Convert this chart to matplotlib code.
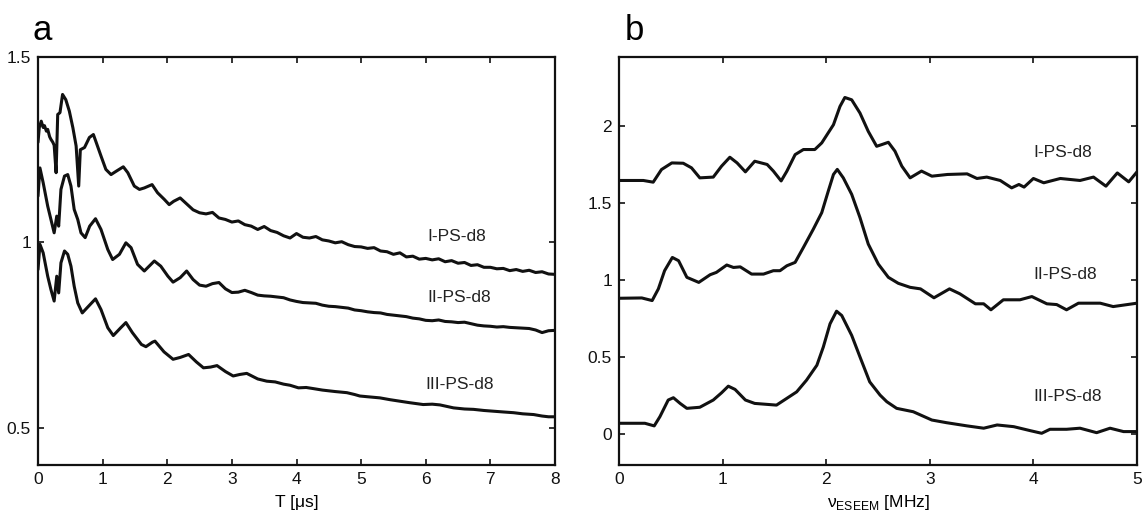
import matplotlib
matplotlib.use("Agg")
import matplotlib.pyplot as plt
from matplotlib.ticker import FormatStrFormatter

plt.rcParams['font.family'] = ['Liberation Sans', 'DejaVu Sans']
plt.rcParams['mathtext.fontset'] = 'custom'
plt.rcParams['mathtext.rm'] = 'Liberation Sans'

# ---------------- Panel a : time-domain ESEEM ----------------
a_I_t = [0.0, 0.02, 0.05, 0.08, 0.10, 0.13, 0.15, 0.18, 0.20, 0.23, 0.25, 0.28, 0.305, 0.34, 0.38,
         0.43, 0.485, 0.54, 0.59, 0.63, 0.655, 0.72, 0.795, 0.857, 0.90, 0.975, 1.05, 1.13, 1.21,
         1.32, 1.39, 1.49, 1.57, 1.645, 1.765, 1.85, 1.955, 2.03,
         2.1, 2.2, 2.3, 2.4, 2.5, 2.6, 2.7, 2.8, 2.9, 3.0, 3.1, 3.2, 3.3, 3.4, 3.5, 3.6, 3.7, 3.8,
         3.9, 4.0, 4.1, 4.2, 4.3, 4.4, 4.5, 4.6, 4.7, 4.8, 4.9, 5.0, 5.1, 5.2, 5.3, 5.4, 5.5, 5.6,
         5.7, 5.8, 5.9, 6.0, 6.1, 6.2, 6.3, 6.4, 6.5, 6.6, 6.7, 6.8, 6.9, 7.0, 7.1, 7.2, 7.3, 7.4,
         7.5, 7.6, 7.7, 7.8, 7.9, 8.0]
a_I_y = [1.27, 1.31, 1.327, 1.31, 1.315, 1.30, 1.305, 1.285, 1.278, 1.27, 1.262, 1.188, 1.345, 1.35, 1.399,
         1.385, 1.354, 1.309, 1.26, 1.152, 1.25, 1.256, 1.283, 1.291, 1.27, 1.233, 1.197, 1.183, 1.192,
         1.204, 1.188, 1.152, 1.143, 1.147, 1.156, 1.134, 1.116, 1.102,
         1.111, 1.120, 1.104, 1.088, 1.080, 1.077, 1.081, 1.066, 1.062, 1.055, 1.058, 1.048, 1.044,
         1.035, 1.043, 1.032, 1.027, 1.018, 1.012, 1.024, 1.014, 1.012, 1.016, 1.007, 1.004, 0.999,
         1.002, 0.994, 0.989, 0.988, 0.984, 0.986, 0.977, 0.975, 0.968, 0.972, 0.961, 0.963, 0.955,
         0.957, 0.953, 0.956, 0.948, 0.951, 0.944, 0.946, 0.938, 0.940, 0.933, 0.933, 0.929, 0.930,
         0.924, 0.927, 0.922, 0.925, 0.919, 0.921, 0.915, 0.914]

a_II_t = [0.0, 0.03, 0.08, 0.15, 0.20, 0.25, 0.29, 0.32, 0.355, 0.41, 0.46, 0.51, 0.56, 0.615, 0.665,
          0.73, 0.80, 0.89, 0.975, 1.08, 1.155, 1.26, 1.36, 1.44, 1.54, 1.645, 1.80, 1.90, 2.01, 2.09,
          2.2, 2.3, 2.4, 2.5, 2.6, 2.7, 2.8, 2.9, 3.0, 3.1, 3.2, 3.3, 3.4, 3.5, 3.6, 3.7, 3.8, 3.9,
          4.0, 4.1, 4.2, 4.3, 4.4, 4.5, 4.6, 4.7, 4.8, 4.9, 5.0, 5.1, 5.2, 5.3, 5.4, 5.5, 5.6, 5.7,
          5.8, 5.9, 6.0, 6.1, 6.2, 6.3, 6.4, 6.5, 6.6, 6.7, 6.8, 6.9, 7.0, 7.1, 7.2, 7.3, 7.4, 7.5,
          7.6, 7.7, 7.8, 7.9, 8.0]
a_II_y = [1.125, 1.201, 1.161, 1.098, 1.062, 1.026, 1.071, 1.044, 1.143, 1.179, 1.183, 1.152, 1.089,
          1.062, 1.026, 1.013, 1.044, 1.064, 1.035, 0.981, 0.954, 0.968, 0.999, 0.986, 0.941, 0.923,
          0.950, 0.936, 0.909, 0.893,
          0.905, 0.923, 0.900, 0.885, 0.882, 0.889, 0.892, 0.875, 0.865, 0.866, 0.871, 0.865, 0.858,
          0.856, 0.855, 0.853, 0.851, 0.845, 0.841, 0.838, 0.837, 0.836, 0.831, 0.828, 0.827, 0.825,
          0.823, 0.818, 0.816, 0.813, 0.811, 0.810, 0.806, 0.804, 0.802, 0.800, 0.796, 0.794, 0.790,
          0.789, 0.791, 0.787, 0.786, 0.784, 0.785, 0.781, 0.777, 0.775, 0.774, 0.772, 0.773, 0.771,
          0.770, 0.769, 0.768, 0.764, 0.757, 0.762, 0.763]

a_III_t = [0.0, 0.03, 0.08, 0.15, 0.20, 0.25, 0.29, 0.32, 0.355, 0.41, 0.46, 0.51, 0.56, 0.615, 0.685,
           0.76, 0.89, 0.975, 1.08, 1.165, 1.28, 1.36, 1.46, 1.60, 1.67, 1.77, 1.81, 1.95, 2.09, 2.2,
           2.33, 2.45, 2.56, 2.67, 2.77, 2.9, 3.02, 3.12, 3.23, 3.4, 3.54, 3.67, 3.80, 3.9, 4.03, 4.15,
           4.26, 4.4, 4.5, 4.6, 4.78, 4.9, 4.98, 5.1, 5.29, 5.45, 5.60, 5.75, 5.96, 6.1, 6.22, 6.43,
           6.6, 6.74, 6.9, 7.05, 7.2, 7.36, 7.5, 7.67, 7.8, 7.9, 8.0]
a_III_y = [0.927, 0.995, 0.972, 0.909, 0.873, 0.842, 0.909, 0.864, 0.945, 0.977, 0.968, 0.936, 0.882,
           0.837, 0.810, 0.824, 0.848, 0.819, 0.770, 0.749, 0.770, 0.784, 0.757, 0.725, 0.719, 0.731,
           0.734, 0.705, 0.685, 0.690, 0.698, 0.678, 0.662, 0.664, 0.668, 0.652, 0.640, 0.644, 0.647,
           0.632, 0.626, 0.624, 0.618, 0.615, 0.608, 0.609, 0.606, 0.602, 0.600, 0.598, 0.595, 0.590,
           0.586, 0.584, 0.581, 0.576, 0.572, 0.568, 0.563, 0.564, 0.562, 0.554, 0.551, 0.550, 0.547,
           0.545, 0.543, 0.541, 0.538, 0.536, 0.532, 0.530, 0.530]

a_labels = ["I-PS-d8", "II-PS-d8", "III-PS-d8"]
a_label_x = [6.02, 6.02, 5.99]
a_label_y = [1.016, 0.852, 0.617]
a_xticks = [0, 1, 2, 3, 4, 5, 6, 7, 8]
a_yticks = [0.5, 1, 1.5]

# ---------------- Panel b : frequency-domain spectra ----------------
b_I_f = [0.01, 0.235, 0.33, 0.41, 0.51, 0.62, 0.70, 0.78, 0.91, 0.99, 1.07, 1.14, 1.22, 1.31, 1.43,
         1.49, 1.565, 1.62, 1.70, 1.78, 1.89, 1.957, 2.07, 2.133, 2.18, 2.246, 2.326, 2.406, 2.487,
         2.536, 2.60, 2.664, 2.73, 2.81, 2.92, 3.02, 3.17, 3.36, 3.455, 3.55, 3.68, 3.79, 3.86, 3.91,
         4.00, 4.10, 4.26, 4.45, 4.58, 4.70, 4.81, 4.92, 5.0]
b_I_v = [1.648, 1.648, 1.637, 1.719, 1.762, 1.76, 1.73, 1.665, 1.67, 1.741, 1.799, 1.762, 1.704, 1.773,
         1.752, 1.709, 1.645, 1.708, 1.816, 1.849, 1.849, 1.892, 2.01, 2.129, 2.187, 2.172, 2.086,
         1.967, 1.87, 1.881, 1.896, 1.838, 1.741, 1.665, 1.709, 1.676, 1.687, 1.691, 1.661, 1.67,
         1.648, 1.60, 1.622, 1.605, 1.661, 1.633, 1.661, 1.648, 1.67, 1.611, 1.697, 1.639, 1.704]

b_II_f = [0.01, 0.22, 0.32, 0.38, 0.44, 0.515, 0.575, 0.655, 0.77, 0.88, 0.94, 1.04, 1.105, 1.17, 1.28,
          1.395, 1.49, 1.554, 1.62, 1.70, 1.78, 1.875, 1.957, 2.02, 2.07, 2.107, 2.165, 2.246, 2.326,
          2.406, 2.503, 2.60, 2.696, 2.81, 2.91, 3.04, 3.19, 3.29, 3.44, 3.52, 3.59, 3.71, 3.87,
          3.985, 4.13, 4.225, 4.32, 4.435, 4.645, 4.77, 5.0]
b_II_v = [0.883, 0.885, 0.868, 0.944, 1.062, 1.148, 1.127, 1.019, 0.986, 1.036, 1.051, 1.099, 1.083,
          1.087, 1.04, 1.04, 1.062, 1.062, 1.094, 1.116, 1.213, 1.331, 1.439, 1.579, 1.687, 1.72,
          1.665, 1.558, 1.407, 1.235, 1.105, 1.019, 0.98, 0.954, 0.944, 0.886, 0.944, 0.912, 0.847,
          0.847, 0.808, 0.873, 0.873, 0.894, 0.847, 0.842, 0.808, 0.851, 0.851, 0.829, 0.851]

b_III_f = [0.01, 0.25, 0.34, 0.395, 0.475, 0.525, 0.59, 0.655, 0.78, 0.91, 0.99, 1.055, 1.12, 1.22,
           1.31, 1.425, 1.52, 1.62, 1.715, 1.81, 1.91, 1.972, 2.037, 2.10, 2.15, 2.246, 2.326, 2.42,
           2.52, 2.585, 2.68, 2.84, 3.02, 3.16, 3.36, 3.52, 3.65, 3.81, 3.97, 4.08, 4.16, 4.32, 4.45,
           4.61, 4.74, 4.87, 5.0]
b_III_v = [0.071, 0.071, 0.054, 0.114, 0.222, 0.237, 0.20, 0.168, 0.175, 0.222, 0.269, 0.312, 0.291,
           0.222, 0.20, 0.194, 0.189, 0.233, 0.275, 0.351, 0.448, 0.566, 0.717, 0.799, 0.771, 0.642,
           0.502, 0.34, 0.254, 0.211, 0.168, 0.146, 0.092, 0.075, 0.054, 0.039, 0.06, 0.049, 0.023,
           0.006, 0.032, 0.032, 0.039, 0.01, 0.039, 0.017, 0.017]

b_labels = ["I-PS-d8", "II-PS-d8", "III-PS-d8"]
b_label_x = [4.0, 4.0, 4.0]
b_label_y = [1.83, 1.037, 0.242]
b_xticks = [0, 1, 2, 3, 4, 5]
b_yticks = [0, 0.5, 1, 1.5, 2]

W, H = 1142, 519
fig = plt.figure(figsize=(W / 100, H / 100), dpi=100)

def px_axes(l, t, r, b):
    return fig.add_axes([l / W, 1 - b / H, (r - l) / W, (b - t) / H])

ax_a = px_axes(38, 57, 555, 465)
ax_b = px_axes(619, 57, 1137, 465)

LC = '#111111'
LW = 2.2
FS = 12.5

for t, y in [(a_I_t, a_I_y), (a_II_t, a_II_y), (a_III_t, a_III_y)]:
    ax_a.plot(t, y, color=LC, lw=LW, solid_joinstyle='round', solid_capstyle='round')
for f, v in [(b_I_f, b_I_v), (b_II_f, b_II_v), (b_III_f, b_III_v)]:
    ax_b.plot(f, v, color=LC, lw=LW, solid_joinstyle='round', solid_capstyle='round')

for lab, x, y in zip(a_labels, a_label_x, a_label_y):
    ax_a.text(x, y, lab, fontsize=FS, ha='left', va='center', color='#222222')
for lab, x, y in zip(b_labels, b_label_x, b_label_y):
    ax_b.text(x, y, lab, fontsize=FS, ha='left', va='center', color='#222222')

ax_a.set_xlim(0, 8)
ax_a.set_ylim(0.4, 1.5)
ax_a.set_xticks(a_xticks)
ax_a.set_yticks(a_yticks)
ax_b.set_xlim(0, 5)
ax_b.set_ylim(-0.2, 2.45)
ax_b.set_xticks(b_xticks)
ax_b.set_yticks(b_yticks)

for ax in (ax_a, ax_b):
    ax.yaxis.set_major_formatter(FormatStrFormatter('%g'))
    ax.xaxis.set_major_formatter(FormatStrFormatter('%g'))
    ax.tick_params(direction='in', length=4, width=1.2, top=True, right=True,
                   labelsize=FS, pad=5, colors='#111111')
    for s in ax.spines.values():
        s.set_linewidth(1.6)
        s.set_color('#111111')

ax_a.set_xlabel("T [μs]", fontsize=FS, labelpad=6)
ax_b.set_xlabel(r"ν$_{\mathrm{ESEEM}}$ [MHz]", fontsize=FS, labelpad=4)

fig.text(33 / W, 1 - 40 / H, "a", fontsize=25, ha='left', va='baseline')
fig.text(625 / W, 1 - 40 / H, "b", fontsize=25, ha='left', va='baseline')

fig.savefig("out.png", dpi=100)
